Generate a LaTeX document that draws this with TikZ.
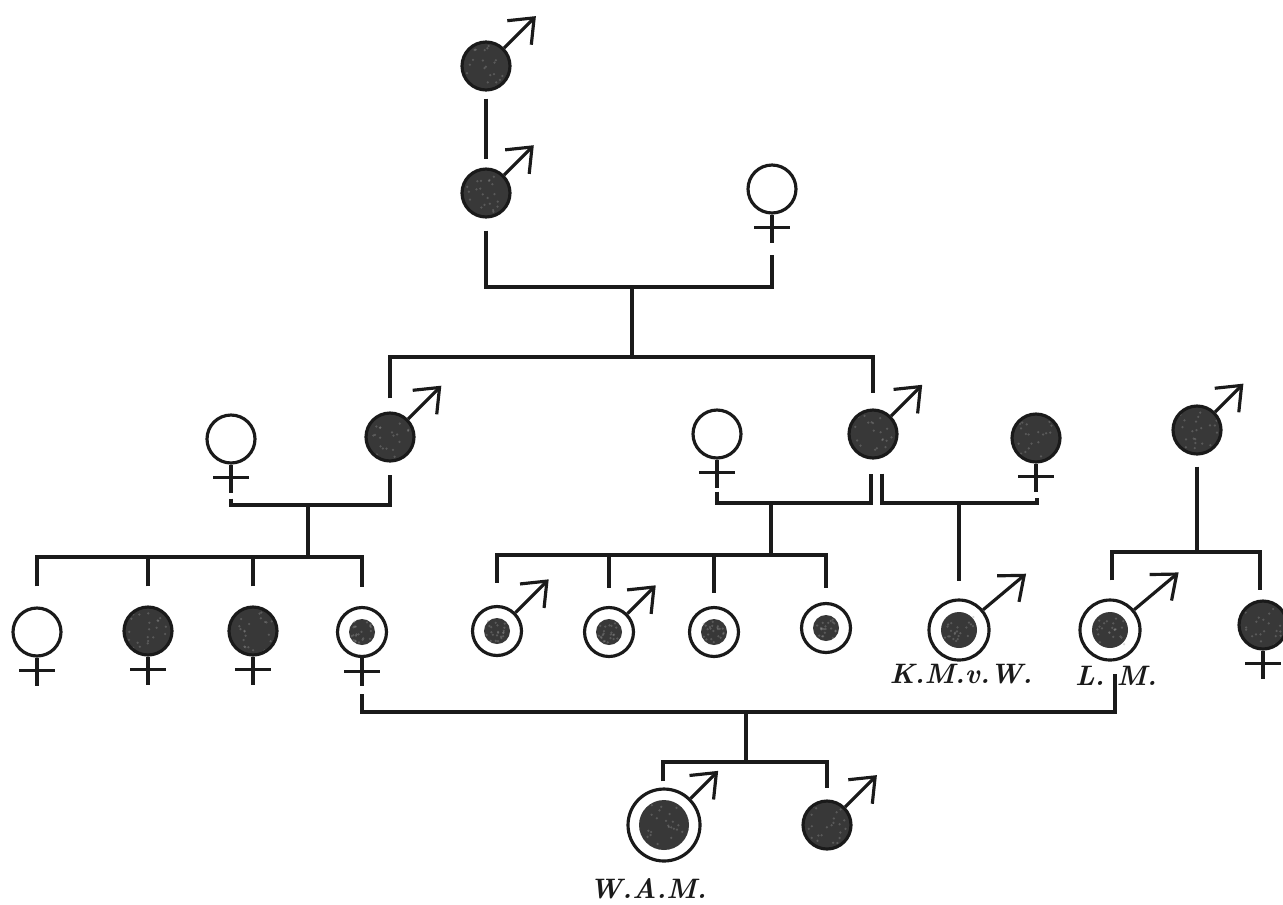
\documentclass[tikz,border=0pt]{standalone}
\usetikzlibrary{arrows.meta,calc}
\definecolor{ink}{HTML}{1A1A1A}
\definecolor{mott}{HTML}{383838}
\definecolor{fleck}{HTML}{9A9A9A}
\pgfmathsetseed{7}
\tikzset{
  sym/.style={circle, draw=ink, line width=1.8pt, inner sep=0pt, minimum size=0.96cm},
  opensym/.style={sym, fill=white},
  % mottled dark disc
  speckle/.style={path picture={
    \fill[mott] (path picture bounding box.center) circle[radius=#1];
    \foreach \k in {1,...,22}{
      \fill[fleck, opacity=0.35]
        ($(path picture bounding box.center)+(rand*0.8*#1, rand*0.8*#1)$)
        circle[radius=0.025cm];}}},
  darksym/.style={sym, fill=white, speckle=0.5cm},
  ringsym/.style args={#1/#2}{sym, fill=white, minimum size=#1, speckle=#2},
  link/.style={draw=ink, line width=1.8pt},
  marrow/.style={draw=ink, line width=1.8pt, -{Straight Barb[length=0.42cm, width=0.68cm]}},
  lbl/.style={font=\fontsize{16}{16}\selectfont\bfseries\itshape, text=ink, inner sep=0pt},
}
% male sign: shaft and barbed head leaving the circle at the given angle
\newcommand\malesign[3]{\draw[marrow] (#1.#2) -- ++(-#2:#3);}
% female sign: short stem with a cross bar below the circle
\newcommand\femsign[1]{%
  \draw[link] (#1.south) -- ++(0,28);
  \draw[link] ($(#1.south)+(-18,13)$) -- ++(36,0);}

\begin{document}
\begin{tikzpicture}[x=0.02cm, y=-0.02cm]
\useasboundingbox (0,0) rectangle (1283,904);

% ---- first generations
\node[darksym] (A) at (486,66) {};
\node[darksym] (B) at (486,193) {};
\node[opensym] (C) at (772,189) {};
\malesign{A}{45}{45}
\malesign{B}{45}{42}
\femsign{C}

% ---- second generation
\node[opensym] (D) at (231,439) {};
\node[darksym] (E) at (390,437) {};
\node[opensym] (F) at (717,434) {};
\node[darksym] (G) at (873,434) {};
\node[darksym] (H) at (1036,438) {};
\node[darksym] (I) at (1197,430) {};
\femsign{D}
\malesign{E}{45}{47}
\femsign{F}
\malesign{G}{45}{44}
\femsign{H}
\malesign{I}{45}{40}

% ---- third generation
\node[opensym] (K1) at (37,632) {};
\node[darksym] (K2) at (148,631) {};
\node[darksym] (K3) at (253,631) {};
\node[ringsym={0.98cm/0.26cm}] (K4) at (362,632) {};
\femsign{K1}
\femsign{K2}
\femsign{K3}
\femsign{K4}
\node[ringsym={0.98cm/0.26cm}] (L1) at (497,631) {};
\node[ringsym={0.98cm/0.26cm}] (L2) at (609,632) {};
\node[ringsym={0.98cm/0.26cm}] (L3) at (714,632) {};
\node[ringsym={0.98cm/0.26cm}] (L4) at (826,628) {};
\malesign{L1}{45}{47}
\malesign{L2}{45}{40}
\node[ringsym={1.2cm/0.36cm}] (M) at (959,630) {};
\node[ringsym={1.2cm/0.36cm}] (N) at (1110,630) {};
\node[darksym] (O) at (1263,625) {};
\malesign{M}{40}{56}
\malesign{N}{40}{58}
\femsign{O}
\node[lbl] (Mlab) at (961,674) {K.M.v.W.};
\node[lbl] (Nlab) at (1116,676) {L.\kern0.24cm M.};

% ---- fourth generation
\node[ringsym={1.44cm/0.5cm}] (P) at (664,825) {};
\node[darksym] (Q) at (827,825) {};
\malesign{P}{45}{39}
\malesign{Q}{45}{45}
\node[lbl] (Plab) at (648,889) {W.A.M.};

% ---- connecting lines
\coordinate (j0) at (632,287);
\coordinate (s1) at (632,357);
\draw[link] ($(A.south)+(0,7)$) -- ($(B.north)+(0,-8)$);
\draw[link] ($(B.south)+(0,12)$) |- (j0) -| ($(C.south)+(0,40)$);
\draw[link] (j0) -- (s1);
\draw[link] ($(E.north)+(0,-13)$) |- (s1) -| ($(G.north)+(0,-15)$);

\coordinate (j1) at (308,505);
\coordinate (s2) at (308,557);
\draw[link] ($(D.south)+(0,34)$) |- (j1) -| ($(E.south)+(0,12)$);
\draw[link] (j1) -- (s2);
\draw[link] ($(K1.north)+(0,-20)$) |- (s2) -| ($(K4.north)+(0,-19)$);
\draw[link] ($(K2.north)+(0,-19)$) -- (K2.north |- s2);
\draw[link] ($(K3.north)+(0,-19)$) -- (K3.north |- s2);

\coordinate (j2) at (771,503);
\coordinate (s3) at (771,555);
\draw[link] ($(F.south)+(0,32)$) |- (j2) -| ($(G.south)+(-2,14)$);
\draw[link] (j2) -- (s3);
\draw[link] ($(L1.north)+(0,-22)$) |- (s3) -| ($(L4.north)+(0,-14)$);
\draw[link] ($(L2.north)+(0,-18)$) -- (L2.north |- s3);
\draw[link] ($(L3.north)+(0,-13)$) -- (L3.north |- s3);

\coordinate (j3) at (959,503);
\draw[link] ($(G.south)+(9,14)$) |- (j3) -| ($(H.south)+(1,34)$);
\draw[link] (j3) -- ($(M.north)+(0,-17)$);

\coordinate (s4) at (1197,552);
\draw[link] ($(I.south)+(0,11)$) -- (s4);
\draw[link] ($(N.north)+(2,-18)$) |- (s4) -| ($(O.north)+(-3,-9)$);

\coordinate (j4) at (746,712);
\coordinate (s5) at (746,762);
\draw[link] ($(K4.south)+(0,36)$) |- (j4) -| ($(N.south)+(5,12)$);
\draw[link] (j4) -- (s5);
\draw[link] ($(P.north)+(-1,-6)$) |- (s5) -| ($(Q.north)+(0,-11)$);
\end{tikzpicture}
\end{document}
